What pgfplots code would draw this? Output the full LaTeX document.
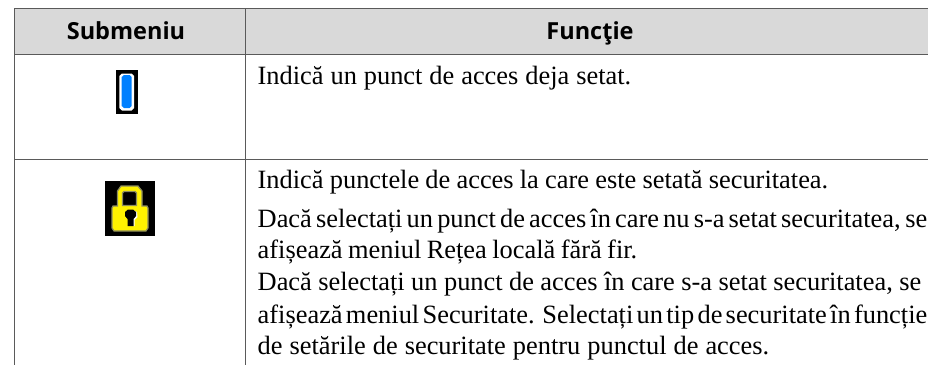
\documentclass[border=0pt]{standalone}
\usepackage{pgfplots}
\usepackage{fontspec}
\pgfplotsset{compat=1.18}
\setmainfont{Liberation Serif}
\newfontfamily\headfont{Open Sans}
\definecolor{rule}{HTML}{5A5A5A}
\definecolor{band}{HTML}{D9D9D9}
\definecolor{iconblue}{HTML}{0080FF}
\definecolor{lockgray}{HTML}{8C8C60}
\newcommand\tline[2]{\hbox to #1bp{\spaceskip=0.25em plus 1em minus 0.2em\relax #2}}
\begin{document}
\begin{tikzpicture}
\clip (0,0) rectangle (928bp,365bp);
\begin{axis}[at={(0,0)},anchor=south west,scale only axis,width=928bp,height=365bp,
  xmin=0,xmax=928,ymin=0,ymax=365,y dir=reverse,hide axis,clip=false,
  every axis plot/.append style={no markers}]
% header band
\addplot[draw=none,fill=band] coordinates {(14.5,9)(928,9)(928,54)(14.5,54)} --cycle;
% rules
\addplot[rule,line width=1bp] coordinates {(14.3,8.5)(928,8.5)};
\addplot[rule,line width=1bp] coordinates {(14.3,54.5)(928,54.5)};
\addplot[rule,line width=1bp] coordinates {(14.3,159)(928,159)};
\addplot[rule,line width=1bp] coordinates {(14.5,8.5)(14.5,365)};
\addplot[rule,line width=1bp] coordinates {(245.5,8.5)(245.5,365)};
% blue icon
\addplot[draw=none,fill=black] coordinates {(115.7,70)(137.7,70)(137.7,114)(115.7,114)} --cycle;
\addplot[draw=none,fill=white] coordinates {(122,73.5)(131.5,73.5)(134,76)(134,108)(131.5,110.5)(122,110.5)(119.3,108)(119.3,76)} --cycle;
\addplot[draw=none,fill=iconblue] coordinates {(124,75)(129.5,75)(131.7,77)(131.7,106)(129.5,108)(124,108)(121.7,106)(121.7,77)} --cycle;
% lock icon
\addplot[draw=none,fill=black] coordinates {(105,181)(154.5,181)(154.5,236)(105,236)} --cycle;
\addplot[lockgray,line width=1.2bp,fill=yellow] coordinates {(113,206)(117.5,206)(117.5,191)(121,186)(138,186)(142,191)(142,206)(147,206)(148,208)(148,228)(146,231)(114,231)(112,228)(112,208)} --cycle;
\addplot[lockgray,line width=1.2bp,fill=black] coordinates {(124,191.5)(135,191.5)(136.5,193)(136.5,205.5)(122.5,205.5)(122.5,193)} --cycle;
\addplot[draw=none,fill=white] coordinates {(133,210)(137,212)(137.5,217)(134.5,220)(134.5,226)(133,226)} --cycle;
\addplot[draw=none,fill=black] coordinates {(128,209.5)(133,209.5)(136,212)(136,216)(133.5,219)(133.5,226)(127.5,226)(127.5,219)(125,216)(125,212)} --cycle;
% text
\node[font=\headfont\bfseries\fontsize{23.5bp}{28bp}\selectfont,anchor=base,inner sep=0pt] at (axis cs:126,39.5) {Submeniu};
\node[font=\headfont\bfseries\fontsize{23.5bp}{28bp}\selectfont,anchor=base,inner sep=0pt] at (axis cs:590,39.5) {Funcţie};
\tikzset{t/.style={anchor=base west,inner sep=0pt,font=\fontsize{26.4bp}{30bp}\selectfont}}
\node[t] at (axis cs:257.5,84) {\tline{373.5}{Indică un punct de acces deja setat.}};
\node[t] at (axis cs:257.5,188) {\tline{570.5}{Indică punctele de acces la care este setată securitatea.}};
\node[t] at (axis cs:257.5,227) {\tline{669.5}{Dacă selectați un punct de acces în care nu s-a setat securitatea, se}};
\node[t] at (axis cs:257.5,258) {\tline{379.5}{afișează meniul Rețea locală fără fir.}};
\node[t] at (axis cs:257.5,290) {\tline{663.5}{Dacă selectați un punct de acces în care s-a setat securitatea, se}};
\node[t] at (axis cs:257.5,323) {\tline{669.5}{afișează meniul Securitate. Selectați un tip de securitate în funcție}};
\node[t] at (axis cs:257.5,354) {\tline{511.5}{de setările de securitate pentru punctul de acces.}};
\end{axis}
\end{tikzpicture}
\end{document}
